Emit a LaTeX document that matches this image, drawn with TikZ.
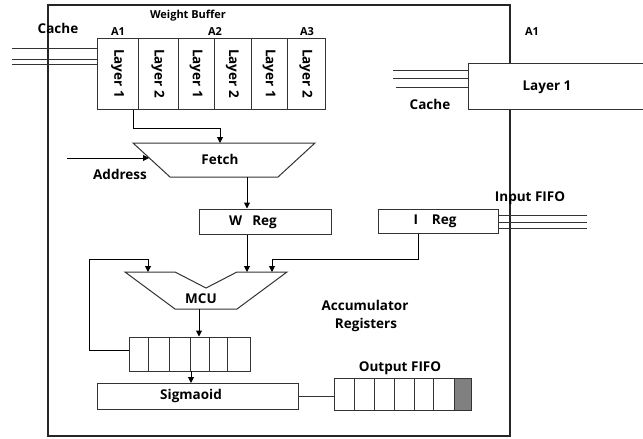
\documentclass[tikz,border=0pt]{standalone}
\usepackage{fontspec}
\setmainfont{Open Sans}
\usetikzlibrary{arrows.meta}
\begin{document}
\begin{tikzpicture}[x=1pt,y=-1pt, line width=1pt,
  lbl/.style={font=\bfseries\fontsize{13.5}{15}\selectfont, inner sep=0pt},
  sm/.style={font=\bfseries\fontsize{11}{12}\selectfont, inner sep=0pt},
  cellbox/.style={draw=black!80, fill=white, inner sep=0pt, line width=1pt},
  arr/.style={-{Triangle[length=6pt,width=6pt]}, line width=1pt},
  wire/.style={line width=1pt, draw=black!80}]
\useasboundingbox (0,0) rectangle (643,439);
% main frame
\draw[line width=1.3pt, draw=black!85] (48,5) rectangle (510,436);
% weight buffer
\def\ya{38}\def\yb{109}
\foreach \i/\xa/\xb/\t in {1/97/138/Layer 1,2/138/178/Layer 2,3/178/214/Layer 1,4/214/251/Layer 2,5/251/287/Layer 1,6/287/325/Layer 2}{
  \node[cellbox, minimum width={\xb-\xa}, minimum height={\yb-\ya}] (wb\i) at ({(\xa+\xb)/2},{(\ya+\yb)/2}) {};
  \node[lbl, rotate=-90] at (wb\i) {\t};
}
\node[sm] (wbl) at (188,16) {Weight Buffer};
\node[lbl] (cachel) at (58,28) {Cache};
\node[sm] (a1) at (118,32) {A1};
\node[sm] (a2) at (215,32) {A2};
\node[sm] (a3) at (307,32) {A3};
% cache lines left
\coordinate (cl1) at (12,48); \coordinate (cl2) at (12,59); \coordinate (cl3) at (12,64);
\foreach \c in {cl1,cl2,cl3} \draw[wire] (\c) -- (\c -| wb1.west);
% fetch
\coordinate (f1) at (133,143); \coordinate (f2) at (315,143);
\coordinate (f3) at (278,177); \coordinate (f4) at (170,177);
\draw[wire, fill=white] (f1) -- (f2) -- (f3) -- (f4) -- cycle;
\node[lbl] (fetch) at (220,159) {Fetch};
\coordinate (fetchin) at (220,143);
\draw[arr] ([xshift=-5pt]wb1.south east) -- ++(0,19) -| (fetchin);
\coordinate (addr) at (67,158); \coordinate (addrend) at (149,158);
\draw[arr] (addr) -- (addrend);
\node[lbl] (addrl) at (120,174) {Address};
% W reg
\node[cellbox, minimum width=132, minimum height=25] (wreg) at (265,221.5) {};
\node[lbl] (wregl) at (253,222) {W\hspace{10pt}Reg};
\coordinate (fetchout) at (247,177);
\draw[arr] (fetchout) -- (fetchout |- wreg.north);
% I reg
\node[cellbox, minimum width=120, minimum height=24] (ireg) at (438,221) {};
\node[lbl] (iregl) at (435,221) {I\hspace{14pt}Reg};
\foreach \yy in {215,222,228} \draw[wire] (ireg.east |- 0,\yy) -- (587,\yy);
\node[lbl] (ififo) at (530,198) {Input FIFO};
% right Layer 1
\draw[wire, fill=white] (650,63) -- (468,63) -- (468,109) -- (650,109);
\node[lbl] (rl1) at (547,87) {Layer 1};
\foreach \yy/\xx in {70/393,78/393,87/396} \draw[wire] (\xx,\yy) -- (468,\yy);
\node[lbl] (rcache) at (430,104) {Cache};
\node[sm] (ra1) at (532,32) {A1};
% MCU
\coordinate (m1) at (125,272); \coordinate (m2) at (175,272); \coordinate (m3) at (206,288);
\coordinate (m4) at (237,272); \coordinate (m5) at (287,272); \coordinate (m6) at (237,309);
\coordinate (m7) at (175,309);
\draw[wire] (m1) -- (m2) -- (m3) -- (m4) -- (m5) -- (m6) -- (m7) -- cycle;
\node[lbl] (mcu) at (201,299) {MCU};
\coordinate (mw) at (247,272); \coordinate (mi) at (272,272); \coordinate (mf) at (148,272);
\draw[arr] (wreg.south -| mw) -- (mw);
\draw[arr] ([xshift=-20pt]ireg.south) |- (272,259) -- (mi);
% accumulator registers
\foreach \i/\xa/\xb in {1/129/148,2/148/169,3/169/190,4/190/209,5/209/227,6/227/250}{
  \node[cellbox, minimum width={\xb-\xa}, minimum height=34] (acc\i) at ({(\xa+\xb)/2},354) {};
}
\draw[arr] (acc1.west |- 0,350) -- (89,350) |- (148,259) -- (mf);
\coordinate (mo) at (199,309);
\draw[arr] (mo) -- (mo |- acc1.north);
\node[lbl] (accl1) at (365,305) {Accumulator};
\node[lbl] (accl2) at (366,325) {Registers};
% sigmoid
\node[cellbox, minimum width=201, minimum height=26] (sig) at (197.5,396) {};
\node[lbl] (sigl) at (191,396) {Sigmaoid};
\draw[arr] (191,371) -- (191,383);
% output fifo
\foreach \i/\xa/\xb in {1/334/354,2/354/374,3/374/394,4/394/414,5/414/433,6/433/454}{
  \node[cellbox, minimum width={\xb-\xa}, minimum height=32] (of\i) at ({(\xa+\xb)/2},394) {};
}
\node[cellbox, fill=black!50, minimum width=17, minimum height=32] (of7) at (462.5,394) {};
\draw[wire] (sig.east) -- (sig.east -| of1.west);
\node[lbl] (ofl) at (400,368) {Output FIFO};
\end{tikzpicture}
\end{document}
